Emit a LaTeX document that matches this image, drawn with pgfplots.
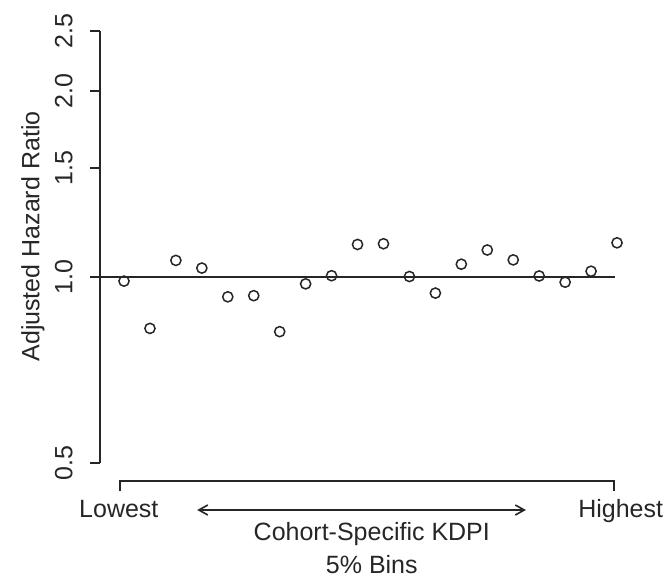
\documentclass[border=0pt]{standalone}
\usepackage{fontspec}
\setmainfont{Liberation Sans}
\usepackage{pgfplots}
\pgfplotsset{compat=1.18}
\usetikzlibrary{arrows.meta}

\colorlet{inkColor}{black!85}
\newcommand{\lbl}{\fontsize{12.5bp}{15bp}\selectfont}

\pgfplotstableread{
bin hr
1  0.984
2  0.825
3  1.063
4  1.033
5  0.928
6  0.932
7  0.815
8  0.974
9  1.004
10 1.128
11 1.131
12 1.001
13 0.941
14 1.048
15 1.105
16 1.065
17 1.003
18 0.980
19 1.021
20 1.135
}\hrtable

\begin{document}
\begin{tikzpicture}
\path[use as bounding box] (-50bp,-57.15bp) rectangle (283.5bp,231.35bp);
\begin{axis}[
  scale only axis,
  width=265bp, height=215.85bp,
  ymode=log,
  xmin=0.075, xmax=20.5,
  ymin=0.5, ymax=2.5,
  axis x line=none,
  axis y line*=left,
  ytick={0.5,1,1.5,2,2.5},
  yticklabels={0.5,1.0,1.5,2.0,2.5},
  minor ytick={},
  tick align=outside,
  major tick length=5bp,
  every tick/.style={inkColor, line width=1bp},
  axis line style={inkColor, line width=1bp},
  % rotated labels: yshift moves them left
  yticklabel style={rotate=90, anchor=south, inner sep=0pt, yshift=8.5bp, font=\lbl, text=inkColor},
  /pgf/number format/assume math mode=true,
  ylabel={Adjusted Hazard Ratio},
  ylabel style={at={(axis description cs:-0.1264,0.524)}, anchor=center, font=\lbl, text=inkColor},
  clip=false,
]
  % reference line at HR = 1
  \addplot[inkColor, line width=1bp] coordinates {(0.075,1) (19.92,1)};

  \addplot[only marks, mark=o, mark size=2.55bp, color=inkColor,
    mark options={line width=0.75bp}] table[x=bin, y=hr] {\hrtable};

  % bracket under the bins
  \draw[inkColor, line width=1bp]
    ([yshift=-14.15bp]axis cs:0.86,0.5) -- ([yshift=-9.15bp]axis cs:0.86,0.5)
    -- ([yshift=-9.15bp]axis cs:19.87,0.5) -- ([yshift=-14.15bp]axis cs:19.87,0.5);
  \draw[inkColor, line width=0.8bp, {Straight Barb[length=4.5bp,width=5bp]}-{Straight Barb[length=4.5bp,width=5bp]}]
    ([yshift=-23.65bp]axis cs:3.82,0.5) -- ([yshift=-23.65bp]axis cs:16.49,0.5);

  \node[anchor=base, font=\lbl, text=inkColor, inner sep=0pt]
    at ([yshift=-27.15bp]axis cs:0.80,0.5) {Lowest};
  \node[anchor=base, font=\lbl, text=inkColor, inner sep=0pt]
    at ([yshift=-27.15bp]axis cs:20.14,0.5) {Highest};
  \node[anchor=base, font=\lbl, text=inkColor, inner sep=0pt]
    at ([yshift=-38.65bp]axis cs:10.55,0.5) {Cohort-Specific KDPI};
  \node[anchor=base, font=\lbl, text=inkColor, inner sep=0pt]
    at ([yshift=-55.15bp]axis cs:10.55,0.5) {5\% Bins};
\end{axis}
\end{tikzpicture}
\end{document}
